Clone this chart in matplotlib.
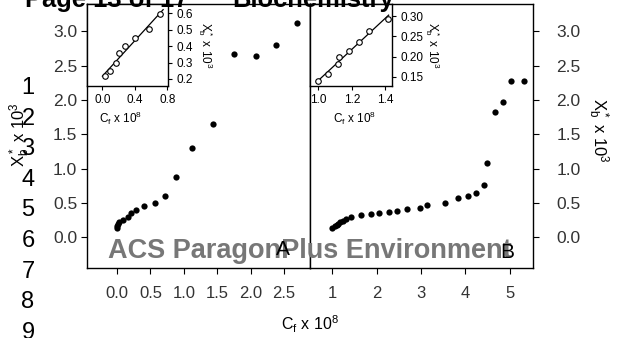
import numpy as np
import matplotlib
matplotlib.use("Agg")
import matplotlib.pyplot as plt

plt.rcParams['font.family'] = ['Liberation Sans', 'DejaVu Sans']
plt.rcParams['mathtext.default'] = 'regular'

# panel A: bound vs free ligand (x 10^8), first points shown again in the inset
a_x = [0.0, 0.0, 0.01, 0.03, 0.095, 0.17, 0.21, 0.285, 0.40, 0.57, 0.715,
       0.885, 1.12, 1.43, 1.745, 2.085, 2.38, 2.69]
a_y = [0.13, 0.16, 0.19, 0.221, 0.248, 0.295, 0.358, 0.402, 0.447, 0.505, 0.598,
       0.878, 1.30, 1.647, 2.667, 2.643, 2.80, 3.13]
a_inset = slice(3, 11)
a_fit_x = [0.0, 0.75]

# panel B
b_x = [1.0, 1.06, 1.116, 1.126, 1.184, 1.244, 1.30, 1.414, 1.65, 1.87, 2.06,
       2.28, 2.45, 2.68, 2.97, 3.14, 3.54, 3.84, 4.05, 4.24, 4.42, 4.48, 4.665,
       4.84, 5.02, 5.32]
b_y = [0.14, 0.157, 0.181, 0.198, 0.214, 0.236, 0.263, 0.293, 0.32, 0.335,
       0.345, 0.36, 0.38, 0.404, 0.43, 0.476, 0.498, 0.568, 0.598, 0.645, 0.758,
       1.08, 1.818, 1.972, 2.278, 2.278]
b_inset = slice(0, 8)
b_fit_x = [0.99, 1.42]

main_yticks = [0.0, 0.5, 1.0, 1.5, 2.0, 2.5, 3.0]
a_xticks = [0.0, 0.5, 1.0, 1.5, 2.0, 2.5]
b_xticks = [1, 2, 3, 4, 5]
ins_a_xticks = [0.0, 0.4, 0.8]
ins_a_yticks = [0.2, 0.3, 0.4, 0.5, 0.6]
ins_b_xticks = [1.0, 1.2, 1.4]
ins_b_yticks = [0.15, 0.20, 0.25, 0.30]

W, H = 620, 338
fig = plt.figure(figsize=(W / 100, H / 100), dpi=100)


def box(l, r, t, b):
    return [l / W, 1 - b / H, (r - l) / W, (b - t) / H]


def ftext(x, y, s, **kw):
    return fig.text(x / W, 1 - y / H, s, **kw)


ylab = r'$X_b^*$ x 10$^3$'
xlab = r'C$_f$ x 10$^8$'
tick_col = '#333333'

ax_a = fig.add_axes(box(87, 310, 4, 268))
ax_b = fig.add_axes(box(310, 533, 4, 268))

ax_a.plot(a_x, a_y, 'o', color='black', ms=4.5, mew=0)
ax_a.set_xlim(-0.45, 2.89)
ax_a.set_ylim(-0.45, 3.40)
ax_a.set_xticks(a_xticks)
ax_a.set_xticklabels(['%.1f' % v for v in a_xticks])
ax_a.set_yticks(main_yticks)
ax_a.set_yticklabels(['%.1f' % v for v in main_yticks])
ax_a.tick_params(axis='x', direction='out', length=4, width=0.8, pad=9,
                 labelsize=12, labelcolor=tick_col)
ax_a.tick_params(axis='y', direction='out', length=4, width=0.8, pad=3,
                 labelsize=12.5, labelcolor=tick_col)

ax_b.plot(b_x, b_y, 'o', color='black', ms=4.5, mew=0)
ax_b.set_xlim(0.5, 5.52)
ax_b.set_ylim(-0.45, 3.40)
ax_b.set_xticks(b_xticks)
ax_b.set_yticks(main_yticks)
ax_b.set_yticklabels(['%.1f' % v for v in main_yticks])
ax_b.yaxis.tick_right()
ax_b.tick_params(axis='x', direction='out', length=4, width=0.8, pad=9,
                 labelsize=12, labelcolor=tick_col)
ax_b.tick_params(axis='y', direction='out', length=4, width=0.8, pad=13,
                 labelsize=12.5, labelcolor=tick_col)

for ax in (ax_a, ax_b):
    for sp in ax.spines.values():
        sp.set_linewidth(1.0)

# insets in the upper-left corner of each panel
ins_a = fig.add_axes(box(87, 168, 4, 86))
ins_b = fig.add_axes(box(310, 392, 4, 86))

insets = [
    (ins_a, np.array(a_x[a_inset]), np.array(a_y[a_inset]), a_fit_x,
     (-0.19, 0.81), (0.157, 0.657), ins_a_xticks, ins_a_yticks, '%.1f', '%.1f'),
    (ins_b, np.array(b_x[b_inset]), np.array(b_y[b_inset]), b_fit_x,
     (0.95, 1.44), (0.127, 0.33), ins_b_xticks, ins_b_yticks, '%.1f', '%.2f'),
]
for ax, xs, ys, fx, xl, yl, xt, yt, xf, yf in insets:
    k, c = np.polyfit(xs, ys, 1)
    fx = np.array(fx)
    ax.plot(fx, k * fx + c, color='black', lw=0.9)
    ax.plot(xs, ys, 'o', mfc='white', mec='black', ms=4, mew=0.8)
    ax.set_xlim(*xl)
    ax.set_ylim(*yl)
    ax.set_xticks(xt)
    ax.set_xticklabels([xf % v for v in xt])
    ax.set_yticks(yt)
    ax.set_yticklabels([yf % v for v in yt])
    ax.yaxis.tick_right()
    ax.tick_params(direction='out', length=3, width=0.8, labelsize=8.5, pad=3)
    for sp in ax.spines.values():
        sp.set_linewidth(1.0)

ftext(121, 118, xlab, fontsize=8.5, ha='center', va='center')
ftext(355, 118, xlab, fontsize=8.5, ha='center', va='center')
ftext(205, 45, ylab, fontsize=8.5, rotation=270, ha='center', va='center')
ftext(432, 45, ylab, fontsize=8.5, rotation=270, ha='center', va='center')

# axis titles
ftext(310, 324, xlab, fontsize=11.5, ha='center', va='center')
ftext(20, 135, ylab, fontsize=12, rotation=90, ha='center', va='center')
ftext(598, 130, ylab, fontsize=12, rotation=270, ha='center', va='center')

# page furniture
ftext(25, 7, 'Page 13 of 17', fontsize=18.4, fontweight='bold', va='baseline')
ftext(232, 7, 'Biochemistry', fontsize=18.4, fontweight='bold', va='baseline')
ftext(108, 258, 'ACS ParagonPlus Environment', fontsize=19.5,
      fontweight='bold', color='#777777', va='baseline')
for i in range(9):
    ftext(28, 88 + 30.6 * i, str(i + 1), fontsize=17, ha='center', va='center')

ftext(283, 255, 'A', fontsize=15, ha='center', va='baseline')
ftext(507, 258, 'B', fontsize=15, ha='center', va='baseline')

fig.savefig('out.png', dpi=100)
